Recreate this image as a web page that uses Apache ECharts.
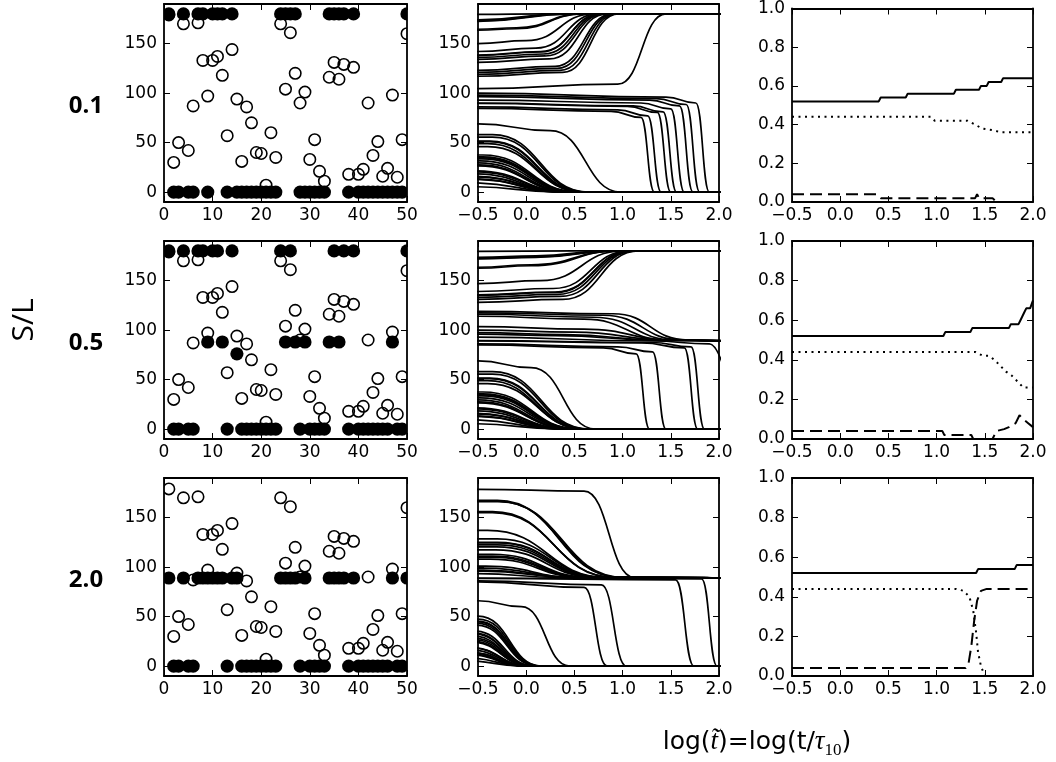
<!DOCTYPE html>
<html><head><meta charset="utf-8">
<script src="https://cdn.jsdelivr.net/npm/echarts@6/dist/echarts.min.js"></script>
<style>html,body{margin:0;padding:0;background:#fff}#chart{width:1056px;height:762px}</style>
</head><body><div id="chart"></div>
<script>
// ---------------- DATA ----------------
const rowLabels = ['0.1', '0.5', '2.0'];
const angleTicks = [0, 50, 100, 150];
const particleIndex = [1,2,3,4,5,6,7,8,9,10,11,12,13,14,15,16,17,18,19,20,21,22,23,24,25,26,27,28,29,30,31,32,33,34,35,36,37,38,39,40,41,42,43,44,45,46,47,48,49,50];
const initialAngle = [179,30,50,170,42,87,171,133,97,133,137,118,57,144,94,31,86,70,40,39,7,60,35,170,104,161,120,90,101,33,53,21,11,116,131,114,129,18,126,18,23,90,37,51,16,24,98,15,53,160];
const finalAngle01 = [180,0,0,180,0,0,180,180,0,180,180,180,0,180,0,0,0,0,0,0,0,0,0,180,180,180,180,0,0,0,0,0,0,180,180,180,180,0,180,0,0,0,0,0,0,0,0,0,0,180];
const finalAngle05 = [180,0,0,180,0,0,180,180,88,180,180,88,0,180,76,0,0,0,0,0,0,0,0,180,88,180,88,0,88,0,0,0,0,88,180,88,180,0,180,0,0,0,0,0,0,0,88,0,0,180];
const finalAngle20 = [89,0,0,89,0,0,89,89,89,89,89,89,0,89,89,0,0,0,0,0,0,0,0,89,89,89,89,0,89,0,0,0,0,89,89,89,89,0,89,0,0,0,0,0,0,0,89,0,0,89];

// trajectories [log t, angle] for each particle (1..50)
const traj01 = [
[[-0.8,179.5],[-0.5,179.5],[0.2,180],[2.2,180]],
[[-0.8,26.5],[-0.5,26.5],[0.48,0],[2.2,0]],
[[-0.8,46],[-0.4,46],[0.6,0],[2.2,0]],
[[-0.8,173],[-0.5,173],[0.45,180],[2.2,180]],
[[-0.8,37.5],[-0.45,37.5],[0.55,0],[2.2,0]],
[[-0.8,86],[-0.5,86],[0.95,83],[1.26,77],[1.4,0],[2.2,0]],
[[-0.8,174],[-0.5,174],[0.4,180],[2.2,180]],
[[-0.8,138.5],[-0.5,138.5],[0.15,142],[0.78,180],[2.2,180]],
[[-0.8,96.5],[-0.5,96.5],[1.28,93],[1.59,87],[1.73,0],[2.2,0]],
[[-0.8,138],[-0.5,138],[0.15,141.5],[0.78,180],[2.2,180]],
[[-0.8,142],[-0.5,142],[0.1,145.5],[0.75,180],[2.2,180]],
[[-0.8,121],[-0.5,121],[0.32,125],[0.92,180],[2.2,180]],
[[-0.8,55.5],[-0.35,55.5],[0.63,0],[2.2,0]],
[[-0.8,150],[-0.5,150],[0.0,153],[0.7,180],[2.2,180]],
[[-0.8,93],[-0.5,93],[1.19,90],[1.5,84],[1.64,0],[2.2,0]],
[[-0.8,27.5],[-0.5,27.5],[0.48,0],[2.2,0]],
[[-0.8,84.5],[-0.5,84.5],[0.88,81.5],[1.19,75.5],[1.33,0],[2.2,0]],
[[-0.8,69],[-0.5,69],[0.25,62],[0.98,0],[2.2,0]],
[[-0.8,35.5],[-0.45,35.5],[0.54,0],[2.2,0]],
[[-0.8,34.5],[-0.45,34.5],[0.53,0],[2.2,0]],
[[-0.8,5.5],[-0.6,5.5],[0.38,0],[2.2,0]],
[[-0.8,58],[-0.35,58],[0.65,0],[2.2,0]],
[[-0.8,31.5],[-0.48,31.5],[0.52,0],[2.2,0]],
[[-0.8,172.5],[-0.5,172.5],[0.48,180],[2.2,180]],
[[-0.8,104.5],[-0.5,104.5],[0.95,109],[1.45,180],[2.2,180]],
[[-0.8,164.5],[-0.5,164.5],[-0.1,166],[0.58,180],[2.2,180]],
[[-0.8,123],[-0.5,123],[0.3,127],[0.9,180],[2.2,180]],
[[-0.8,90],[-0.5,90],[1.11,87],[1.42,81],[1.56,0],[2.2,0]],
[[-0.8,100],[-0.5,100],[1.45,96],[1.76,90],[1.9,0],[2.2,0]],
[[-0.8,29.5],[-0.5,29.5],[0.5,0],[2.2,0]],
[[-0.8,51.5],[-0.38,51.5],[0.62,0],[2.2,0]],
[[-0.8,18.5],[-0.55,18.5],[0.45,0],[2.2,0]],
[[-0.8,9.5],[-0.6,9.5],[0.4,0],[2.2,0]],
[[-0.8,119],[-0.5,119],[0.35,123],[0.94,180],[2.2,180]],
[[-0.8,136],[-0.5,136],[0.18,139.5],[0.8,180],[2.2,180]],
[[-0.8,117],[-0.5,117],[0.38,121],[0.96,180],[2.2,180]],
[[-0.8,134],[-0.5,134],[0.2,137.5],[0.82,180],[2.2,180]],
[[-0.8,15.5],[-0.56,15.5],[0.44,0],[2.2,0]],
[[-0.8,131],[-0.5,131],[0.24,134.5],[0.84,180],[2.2,180]],
[[-0.8,16],[-0.56,16],[0.45,0],[2.2,0]],
[[-0.8,20.5],[-0.54,20.5],[0.46,0],[2.2,0]],
[[-0.8,89.5],[-0.5,89.5],[1.05,86.5],[1.36,80.5],[1.5,0],[2.2,0]],
[[-0.8,33.5],[-0.46,33.5],[0.53,0],[2.2,0]],
[[-0.8,49],[-0.4,49],[0.6,0],[2.2,0]],
[[-0.8,13.5],[-0.57,13.5],[0.43,0],[2.2,0]],
[[-0.8,21.5],[-0.53,21.5],[0.47,0],[2.2,0]],
[[-0.8,98],[-0.5,98],[1.35,94.5],[1.66,88.5],[1.8,0],[2.2,0]],
[[-0.8,13],[-0.57,13],[0.42,0],[2.2,0]],
[[-0.8,51],[-0.38,51],[0.61,0],[2.2,0]],
[[-0.8,163.5],[-0.5,163.5],[-0.1,165],[0.6,180],[2.2,180]]
];
const traj05 = [
[[-0.8,179.5],[-0.5,179.5],[0.5,180],[2.2,180]],
[[-0.8,26.5],[-0.5,26.5],[0.5,0],[2.2,0]],
[[-0.8,46],[-0.4,46],[0.62,0],[2.2,0]],
[[-0.8,172.5],[-0.5,172.5],[0.1,174],[0.9,180],[2.2,180]],
[[-0.8,37.5],[-0.45,37.5],[0.56,0],[2.2,0]],
[[-0.8,86],[-0.5,86],[0.95,83],[1.31,78],[1.45,0],[2.2,0]],
[[-0.8,173.5],[-0.5,173.5],[0.1,175],[0.85,180],[2.2,180]],
[[-0.8,135.5],[-0.5,135.5],[0.3,138.5],[1.1,180],[2.2,180]],
[[-0.8,96],[-0.5,96],[0.3,94.5],[1.4,89.5],[2.2,88.5]],
[[-0.8,135],[-0.5,135],[0.3,138],[1.1,180],[2.2,180]],
[[-0.8,139],[-0.5,139],[0.28,142],[1.07,180],[2.2,180]],
[[-0.8,117.5],[-0.5,117.5],[0.8,115],[1.62,90],[2.2,88.5]],
[[-0.8,55.5],[-0.35,55.5],[0.64,0],[2.2,0]],
[[-0.8,147],[-0.5,147],[0.15,150],[1.0,180],[2.2,180]],
[[-0.8,93],[-0.5,93],[1.3,89],[1.9,86],[2.2,0]],
[[-0.8,27.5],[-0.5,27.5],[0.5,0],[2.2,0]],
[[-0.8,85],[-0.5,85],[0.8,82],[1.14,76],[1.28,0],[2.2,0]],
[[-0.8,69],[-0.5,69],[0.05,62],[0.72,0],[2.2,0]],
[[-0.8,35.5],[-0.45,35.5],[0.55,0],[2.2,0]],
[[-0.8,34.5],[-0.45,34.5],[0.54,0],[2.2,0]],
[[-0.8,5.5],[-0.6,5.5],[0.4,0],[2.2,0]],
[[-0.8,58],[-0.35,58],[0.66,0],[2.2,0]],
[[-0.8,31.5],[-0.48,31.5],[0.53,0],[2.2,0]],
[[-0.8,172],[-0.5,172],[0.1,173.5],[0.92,180],[2.2,180]],
[[-0.8,103.5],[-0.5,103.5],[0.6,101],[1.55,90],[2.2,88.5]],
[[-0.8,163.5],[-0.5,163.5],[0.05,166],[0.95,180],[2.2,180]],
[[-0.8,119],[-0.5,119],[0.9,116.5],[1.68,90],[2.2,88.5]],
[[-0.8,89.5],[-0.5,89.5],[1.3,87.5],[1.71,83],[1.85,0],[2.2,0]],
[[-0.8,100],[-0.5,100],[0.5,98],[1.5,90],[2.2,88.5]],
[[-0.8,29.5],[-0.5,29.5],[0.51,0],[2.2,0]],
[[-0.8,51.5],[-0.38,51.5],[0.63,0],[2.2,0]],
[[-0.8,18.5],[-0.55,18.5],[0.46,0],[2.2,0]],
[[-0.8,9.5],[-0.6,9.5],[0.41,0],[2.2,0]],
[[-0.8,116],[-0.5,116],[0.7,113],[1.55,90],[2.2,88.5]],
[[-0.8,133],[-0.5,133],[0.32,136],[1.12,180],[2.2,180]],
[[-0.8,114],[-0.5,114],[0.6,111],[1.48,90],[2.2,88.5]],
[[-0.8,131],[-0.5,131],[0.35,134],[1.14,180],[2.2,180]],
[[-0.8,15.5],[-0.56,15.5],[0.45,0],[2.2,0]],
[[-0.8,128],[-0.5,128],[0.38,131],[1.17,180],[2.2,180]],
[[-0.8,16],[-0.56,16],[0.46,0],[2.2,0]],
[[-0.8,20.5],[-0.54,20.5],[0.47,0],[2.2,0]],
[[-0.8,89],[-0.5,89],[1.2,87],[1.64,82],[1.78,0],[2.2,0]],
[[-0.8,33.5],[-0.46,33.5],[0.54,0],[2.2,0]],
[[-0.8,49],[-0.4,49],[0.61,0],[2.2,0]],
[[-0.8,13.5],[-0.57,13.5],[0.44,0],[2.2,0]],
[[-0.8,21.5],[-0.53,21.5],[0.48,0],[2.2,0]],
[[-0.8,97.5],[-0.5,97.5],[0.4,95.5],[1.45,89.5],[2.2,88.5]],
[[-0.8,13],[-0.57,13],[0.43,0],[2.2,0]],
[[-0.8,51],[-0.38,51],[0.62,0],[2.2,0]],
[[-0.8,162.5],[-0.5,162.5],[0.05,165],[0.97,180],[2.2,180]]
];
const traj20 = [
[[-0.8,178.6],[-0.5,178.6],[0.6,176.8],[1.12,89.5],[2.2,89]],
[[-0.8,24.5],[-0.58,24.5],[0.06,0],[2.2,0]],
[[-0.8,41.5],[-0.52,41.5],[0.12,0],[2.2,0]],
[[-0.8,166.5],[-0.3,166.5],[1.0,89.5],[2.2,89]],
[[-0.8,35.5],[-0.54,35.5],[0.09,0],[2.2,0]],
[[-0.8,86],[-0.5,86],[0.78,82],[1.04,0],[2.2,0]],
[[-0.8,167.5],[-0.3,167.5],[0.98,89.5],[2.2,89]],
[[-0.8,125],[-0.3,125],[0.8,89.5],[2.2,89]],
[[-0.8,96],[-0.45,96],[0.48,89.5],[2.2,89]],
[[-0.8,124.5],[-0.3,124.5],[0.8,89.5],[2.2,89]],
[[-0.8,128.5],[-0.3,128.5],[0.82,89.5],[2.2,89]],
[[-0.8,111],[-0.35,111],[0.66,89.5],[2.2,89]],
[[-0.8,47.5],[-0.5,47.5],[0.15,0],[2.2,0]],
[[-0.8,137],[-0.4,137],[0.85,89.5],[2.2,89]],
[[-0.8,93.5],[-0.5,93.5],[0.35,89.5],[2.2,89]],
[[-0.8,25.5],[-0.58,25.5],[0.06,0],[2.2,0]],
[[-0.8,85],[-0.5,85],[0.6,79.5],[0.84,0],[2.2,0]],
[[-0.8,66],[-0.5,66],[-0.05,60],[0.45,0],[2.2,0]],
[[-0.8,33.5],[-0.55,33.5],[0.08,0],[2.2,0]],
[[-0.8,32.5],[-0.55,32.5],[0.08,0],[2.2,0]],
[[-0.8,5.5],[-0.65,5.5],[-0.02,0],[2.2,0]],
[[-0.8,50.5],[-0.5,50.5],[0.16,0],[2.2,0]],
[[-0.8,28.5],[-0.56,28.5],[0.07,0],[2.2,0]],
[[-0.8,166],[-0.28,166],[1.02,89.5],[2.2,89]],
[[-0.8,101],[-0.42,101],[0.55,89.5],[2.2,89]],
[[-0.8,156],[-0.35,156],[0.92,89.5],[2.2,89]],
[[-0.8,113],[-0.35,113],[0.68,89.5],[2.2,89]],
[[-0.8,89],[-0.5,89],[1.82,88],[1.98,0],[2.2,0]],
[[-0.8,99],[-0.43,99],[0.52,89.5],[2.2,89]],
[[-0.8,27],[-0.57,27],[0.06,0],[2.2,0]],
[[-0.8,45.5],[-0.51,45.5],[0.14,0],[2.2,0]],
[[-0.8,16.5],[-0.6,16.5],[0.03,0],[2.2,0]],
[[-0.8,8.5],[-0.64,8.5],[0.0,0],[2.2,0]],
[[-0.8,110],[-0.36,110],[0.64,89.5],[2.2,89]],
[[-0.8,122.5],[-0.3,122.5],[0.78,89.5],[2.2,89]],
[[-0.8,108],[-0.37,108],[0.62,89.5],[2.2,89]],
[[-0.8,120.5],[-0.31,120.5],[0.77,89.5],[2.2,89]],
[[-0.8,14],[-0.61,14],[0.02,0],[2.2,0]],
[[-0.8,117.5],[-0.32,117.5],[0.75,89.5],[2.2,89]],
[[-0.8,14],[-0.61,14],[0.02,0],[2.2,0]],
[[-0.8,18.5],[-0.59,18.5],[0.04,0],[2.2,0]],
[[-0.8,88.5],[-0.5,88.5],[1.55,87],[1.74,0],[2.2,0]],
[[-0.8,30.5],[-0.56,30.5],[0.07,0],[2.2,0]],
[[-0.8,43.5],[-0.52,43.5],[0.13,0],[2.2,0]],
[[-0.8,12.5],[-0.62,12.5],[0.02,0],[2.2,0]],
[[-0.8,19],[-0.59,19],[0.04,0],[2.2,0]],
[[-0.8,97],[-0.44,97],[0.5,89.5],[2.2,89]],
[[-0.8,11.5],[-0.62,11.5],[0.01,0],[2.2,0]],
[[-0.8,45],[-0.51,45],[0.14,0],[2.2,0]],
[[-0.8,155],[-0.35,155],[0.93,89.5],[2.2,89]]
];

// fractions vs log t (solid, dotted, dashed) for each S/L
const fracSolid01 = [[-0.5,0.52],[0.4,0.52],[0.42,0.54],[0.68,0.54],[0.7,0.56],[1.18,0.56],[1.2,0.58],[1.44,0.58],[1.46,0.6],[1.52,0.6],[1.54,0.62],[1.67,0.62],[1.69,0.64],[2.0,0.64]];
const fracDotted01 = [[-0.5,0.44],[0.94,0.44],[0.98,0.42],[1.32,0.42],[1.4,0.4],[1.47,0.38],[1.6,0.37],[1.66,0.36],[2.0,0.36]];
const fracDashed01 = [[-0.5,0.04],[0.38,0.04],[0.42,0.02],[1.4,0.02],[1.42,0.04],[1.44,0.02],[1.58,0.02],[1.62,0.0],[2.0,0.0]];
const fracSolid05 = [[-0.5,0.52],[1.07,0.52],[1.09,0.54],[1.35,0.54],[1.37,0.56],[1.75,0.56],[1.77,0.58],[1.85,0.58],[1.87,0.6],[1.89,0.62],[1.91,0.64],[1.93,0.66],[1.97,0.66],[2.0,0.7]];
const fracDotted05 = [[-0.5,0.44],[1.4,0.44],[1.48,0.42],[1.54,0.42],[1.6,0.4],[1.66,0.37],[1.72,0.34],[1.78,0.32],[1.84,0.29],[1.9,0.26],[2.0,0.26]];
const fracDashed05 = [[-0.5,0.04],[1.06,0.04],[1.08,0.02],[1.36,0.02],[1.38,0.0],[1.58,0.0],[1.62,0.04],[1.7,0.05],[1.75,0.06],[1.82,0.08],[1.86,0.12],[1.9,0.1],[1.95,0.08],[2.0,0.06]];
const fracSolid20 = [[-0.5,0.52],[1.41,0.52],[1.43,0.54],[1.81,0.54],[1.83,0.56],[2.0,0.56]];
const fracDotted20 = [[-0.5,0.44],[1.2,0.44],[1.28,0.43],[1.34,0.4],[1.38,0.33],[1.41,0.22],[1.43,0.12],[1.46,0.05],[1.5,0.0],[2.0,0.0]];
const fracDashed20 = [[-0.5,0.04],[1.3,0.04],[1.33,0.06],[1.36,0.15],[1.39,0.28],[1.42,0.38],[1.46,0.43],[1.52,0.44],[2.0,0.44]];

// ---------------- LAYOUT ----------------
const colLeft = [164, 478, 792];
const colWidth = [243, 241, 241];
const rowTop = [4, 241, 478];
const rowHeight = 198;

const finals = [finalAngle01, finalAngle05, finalAngle20];
const trajs = [traj01, traj05, traj20];
const fracs = [[fracSolid01, fracDotted01, fracDashed01],[fracSolid05, fracDotted05, fracDashed05],[fracSolid20, fracDotted20, fracDashed20]];

const labelFont = {fontFamily: 'DejaVu Sans', fontSize: 17, color: '#000'};
function fmtSigned(v) { return v < 0 ? '\u2212' + Math.abs(v).toFixed(1) : v.toFixed(1); }

const grids = [], xAxes = [], yAxes = [], series = [];

function addAxis(arr, base, pos, showLabel, margin) {
  const tick = Object.assign({show: true, inside: true, length: 6, lineStyle: {color: '#000', width: 1}}, base.tick || {});
  const lab = Object.assign({show: showLabel, margin: margin}, labelFont, base.label || {});
  const a = {
    gridIndex: base.gridIndex, type: 'value', min: base.min, max: base.max,
    position: pos,
    axisLine: {show: true, onZero: false, lineStyle: {color: '#000', width: 1.8}},
    axisTick: tick, axisLabel: lab, splitLine: {show: false}
  };
  if (base.interval !== undefined) a.interval = base.interval;
  arr.push(a);
  return arr.length - 1;
}

for (let r = 0; r < 3; r++) {
  for (let c = 0; c < 3; c++) {
    const g = grids.length;
    grids.push({left: colLeft[c], top: rowTop[r], width: colWidth[c], height: rowHeight, containLabel: false});
    let xb, yb;
    if (c === 0) xb = {gridIndex: g, min: 0, max: 50, interval: 10, label: {formatter: v => String(Math.round(v))}};
    else xb = {gridIndex: g, min: -0.5, max: 2.0, interval: 0.5, label: {formatter: fmtSigned}};
    if (c < 2) yb = {gridIndex: g, min: -10, max: 190, tick: {customValues: angleTicks}, label: {customValues: angleTicks, formatter: v => String(Math.round(v))}};
    else yb = {gridIndex: g, min: 0, max: 1, interval: 0.2, label: {formatter: v => v.toFixed(1)}};
    const xi = addAxis(xAxes, xb, 'bottom', true, 5);
    addAxis(xAxes, xb, 'top', false, 5);
    const yi = addAxis(yAxes, yb, 'left', true, 7);
    addAxis(yAxes, yb, 'right', false, 7);

    if (c === 0) {
      series.push({
        type: 'custom', xAxisIndex: xi, yAxisIndex: yi, clip: true, silent: true, z: 2,
        data: particleIndex.map((p, i) => [p, initialAngle[i]]),
        renderItem: (params, api) => {
          const p = api.coord([api.value(0), api.value(1)]);
          return {type: 'circle', shape: {cx: p[0], cy: p[1], r: 5.7}, style: {fill: 'none', stroke: '#000', lineWidth: 1.6}};
        }
      });
      series.push({
        type: 'custom', xAxisIndex: xi, yAxisIndex: yi, clip: true, silent: true, z: 3,
        data: particleIndex.map((p, i) => [p, finals[r][i]]),
        renderItem: (params, api) => {
          const p = api.coord([api.value(0), api.value(1)]);
          return {type: 'circle', shape: {cx: p[0], cy: p[1], r: 6.6}, style: {fill: '#000', stroke: null}};
        }
      });
    } else if (c === 1) {
      trajs[r].forEach(curve => {
        series.push({
          type: 'line', xAxisIndex: xi, yAxisIndex: yi, data: curve, clip: true, silent: true,
          smooth: 0.5, smoothMonotone: 'x', showSymbol: false, symbol: 'none',
          lineStyle: {color: '#000', width: 1.7}
        });
      });
    } else {
      const styles = [{type: 'solid'}, {type: [2, 4.5]}, {type: [12, 6]}];
      fracs[r].forEach((d, k) => {
        series.push({
          type: 'line', xAxisIndex: xi, yAxisIndex: yi, data: d, clip: true, silent: true,
          showSymbol: false, symbol: 'none',
          lineStyle: Object.assign({color: '#000', width: 2}, styles[k])
        });
      });
    }
  }
}

const graphic = [
  {type: 'text', x: 24, y: 320, rotation: Math.PI / 2,
   style: {text: 'S/L', fontFamily: 'Open Sans', fontSize: 30, fill: '#000', align: 'center', verticalAlign: 'middle'}},
  {type: 'text', x: 757, y: 742,
   style: {text: 'log({it|t\u0303})=log(t/{it|\u03c4}{sub|10})', fontFamily: 'DejaVu Sans', fontSize: 25, lineHeight: 34,
     fill: '#000', align: 'center', verticalAlign: 'middle',
     rich: {it: {fontFamily: 'Liberation Serif', fontStyle: 'italic', fontSize: 27, lineHeight: 34},
            sub: {fontFamily: 'Liberation Serif', fontSize: 17, lineHeight: 17, verticalAlign: 'bottom'}}}}
];
rowLabels.forEach((t, r) => {
  graphic.push({type: 'text', x: 86, y: rowTop[r] + rowHeight / 2 + 3,
    style: {text: t, fontFamily: 'Open Sans', fontWeight: 'bold', fontSize: 24, fill: '#000', align: 'center', verticalAlign: 'middle'}});
});

const chart = echarts.init(document.getElementById('chart'), null, {renderer: 'canvas', width: 1056, height: 762});
chart.setOption({
  animation: false,
  backgroundColor: '#fff',
  grid: grids, xAxis: xAxes, yAxis: yAxes, series: series, graphic: graphic
});
</script>
</body></html>
